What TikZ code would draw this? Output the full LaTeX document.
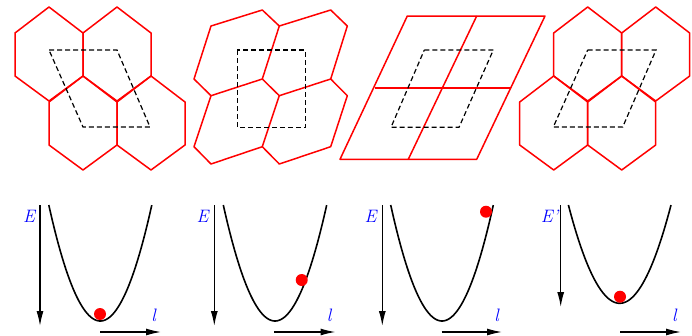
\documentclass[tikz,border=0pt]{standalone}
\usepackage{fontspec}
\setmainfont{Latin Modern Roman}
\usetikzlibrary{arrows.meta}
\begin{document}
\begin{tikzpicture}[x=1pt,y=-1pt,
  hexline/.style={red, line width=1.5pt, line join=round},
  cellline/.style={black, line width=1.2pt, dash pattern=on 5pt off 3pt},
  curveline/.style={black, line width=1.6pt},
  axisline/.style={black, line width=1.3pt, -{Latex[length=15pt,width=7pt]}},
  ball/.style={circle, fill=red, inner sep=0pt, minimum size=12pt},
  lab/.style={text=blue, font=\fontsize{18}{20}\selectfont\itshape, inner sep=0pt},
  hex/.pic={\draw[hexline] (0,0) -- (34,26) -- (34,69) -- (0,94) -- (-34,69) -- (-34,26) -- cycle;}
]
\useasboundingbox (0,0) rectangle (692,335);

% ---- panel 1: hexagons
\pic at (49,7) {hex};
\pic at (117,7) {hex};
\pic at (83,76) {hex};
\pic at (151,76) {hex};
\draw[cellline] (49,50) -- (117,50) -- (150,127) -- (83,127) -- cycle;

% ---- panel 2: distorted hexagons
\draw[hexline] (211,26) -- (262.3,10) -- (279.3,26) -- (262.3,79) -- (211,95.7) -- (194,79) -- cycle;
\draw[hexline] (279.3,26) -- (330.7,10) -- (347.3,26) -- (330.7,79) -- (279.3,95.7) -- (262.3,79);
\draw[hexline] (211,95.7) -- (194,146.7) -- (211,164) -- (262.3,146.7) -- (279.3,95.7);
\draw[hexline] (262.3,146.7) -- (279.3,164) -- (330.7,146.7) -- (347.3,95.7) -- (330.7,79);
\draw[cellline] (237.3,50) rectangle (305.3,127.3);

% ---- panel 3: parallelogram lattice
\draw[hexline] (340,159.3) -- (476.7,159.3) -- (545,16) -- (407.3,16) -- cycle;
\draw[hexline] (375,88) -- (510.7,88);
\draw[hexline] (476.7,16) -- (408.3,159.3);
\draw[cellline] (424.3,50) -- (493.3,50) -- (459,127.3) -- (391,127.3) -- cycle;

% ---- panel 4: hexagons (shifted)
\pic at (587.7,7) {hex};
\pic at (655.7,7) {hex};
\pic at (553.7,76) {hex};
\pic at (621.7,76) {hex};
\draw[cellline] (587.7,50) -- (656,50) -- (622.7,127) -- (553.3,127) -- cycle;

% ---- energy curves
\draw[curveline] plot[domain=-1:1, samples=60, smooth] ({100.3+51.5*\x},{321-116*\x*\x});
\draw[curveline] plot[domain=-1:1, samples=60, smooth] ({275+51.7*\x},{321-116*\x*\x});
\draw[curveline] plot[domain=-1:1, samples=60, smooth] ({442+51.3*\x},{321-116*\x*\x});
\draw[curveline] plot[domain=-1:1, samples=60, smooth] ({619.7+51.3*\x},{303.3-98.3*\x*\x});

% balls
\node[ball] (b1) at (100,314) {};
\node[ball] (b2) at (301.7,280) {};
\node[ball] (b3) at (486,211.7) {};
\node[ball] (b4) at (620,296.7) {};

% axes
\coordinate (e1s) at (40,205);    \coordinate (e1e) at (40,326);
\coordinate (e2s) at (214.3,205); \coordinate (e2e) at (214.3,326);
\coordinate (e3s) at (382.3,205); \coordinate (e3e) at (382.3,326);
\coordinate (e4s) at (560.7,205); \coordinate (e4e) at (560.7,307);
\draw[axisline] (e1s) -- (e1e);
\draw[axisline] (e2s) -- (e2e);
\draw[axisline] (e3s) -- (e3e);
\draw[axisline] (e4s) -- (e4e);

\coordinate (l1s) at (100,332);   \coordinate (l1e) at (161,332);
\coordinate (l2s) at (274.3,332); \coordinate (l2e) at (335.5,332);
\coordinate (l3s) at (441.7,332); \coordinate (l3e) at (502,332);
\coordinate (l4s) at (620,332);   \coordinate (l4e) at (681,332);
\draw[axisline] (l1s) -- (l1e);
\draw[axisline] (l2s) -- (l2e);
\draw[axisline] (l3s) -- (l3e);
\draw[axisline] (l4s) -- (l4e);

% labels
\node[lab] (E1) at (29,216.7) {E};
\node[lab] (E2) at (202.7,216.7) {E};
\node[lab] (E3) at (370.7,216.7) {E};
\node[lab] (E4) at (549.5,216.7) {E'};
\node[lab] (L1) at (153.5,315) {l};
\node[lab] (L2) at (329,315) {l};
\node[lab] (L3) at (496.7,315) {l};
\node[lab] (L4) at (674.3,315) {l};
\end{tikzpicture}
\end{document}
